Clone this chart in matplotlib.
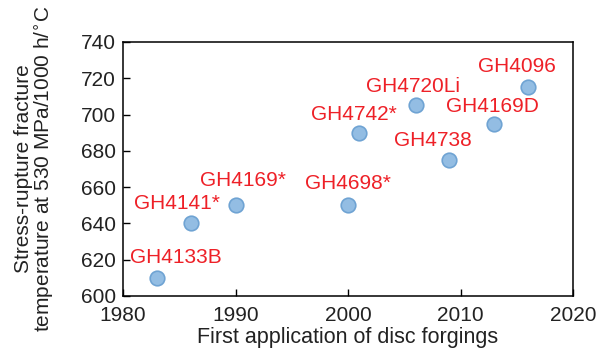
import matplotlib.pyplot as plt
import numpy as np

plt.rcParams['font.family'] = ['Liberation Sans', 'DejaVu Sans']

# data
alloys = ["GH4133B", "GH4141*", "GH4169*", "GH4698*", "GH4742*",
          "GH4720Li", "GH4738", "GH4169D", "GH4096"]
years = [1983, 1986, 1990, 2000, 2001, 2006, 2009, 2013, 2016]
temps = [610, 640, 650, 650, 690, 705, 675, 695, 715]
# label offsets from each point, in points
label_dx = [14, -10, 5, 0, -4, -2, -12, -1, -8]
label_dy = [15, 14, 18, 16, 13, 14, 14, 12, 15]

fig = plt.figure(figsize=(6.06, 3.56), dpi=100)
ax = fig.add_axes([123/606, 60/356, 450/606, 254/356])

ax.scatter(years, temps, s=110, color='#93bde3', edgecolors='#6fa3d3',
           linewidths=1.2, zorder=3)

for name, x, y, dx, dy in zip(alloys, years, temps, label_dx, label_dy):
    ax.annotate(name, (x, y), xytext=(dx, dy), textcoords='offset points',
                ha='center', va='center', color='#ee2027', fontsize=15)

ax.set_xlim(1980, 2020)
ax.set_ylim(600, 740)
ax.set_xticks(np.arange(1980, 2021, 10))
ax.set_yticks(np.arange(600, 741, 20))
ax.tick_params(direction='in', length=5, width=1, labelsize=15,
               labelcolor='#222222')
ax.tick_params(axis='x', pad=7)
ax.tick_params(axis='y', pad=5)
for s in ax.spines.values():
    s.set_linewidth(1.1)

ax.set_xlabel("First application of disc forgings", fontsize=15.5,
              color='#222222', labelpad=2)
ax.set_ylabel("Stress-rupture fracture\ntemperature at 530 MPa/1000 h/$^{\\circ}$C",
              fontsize=15, color='#222222', linespacing=0.92)
ax.yaxis.set_label_coords(-0.15, 0.5)

fig.savefig("out.png", dpi=100)
